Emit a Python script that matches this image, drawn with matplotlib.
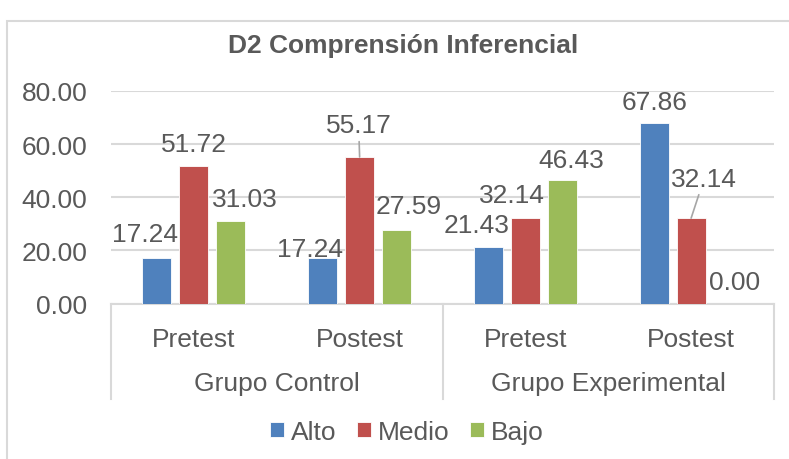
import numpy as np
import matplotlib
matplotlib.use('Agg')
import matplotlib.pyplot as plt
from matplotlib.patches import Rectangle, Patch
from matplotlib.lines import Line2D

## chart data
tests = ['Pretest', 'Postest', 'Pretest', 'Postest']
groups = ['Grupo Control', 'Grupo Experimental']
levels = ['Alto', 'Medio', 'Bajo']
alto = [17.24, 17.24, 21.43, 67.86]
medio = [51.72, 55.17, 32.14, 32.14]
bajo = [31.03, 27.59, 46.43, 0.00]
yticks = [0, 20, 40, 60, 80]

colors = ['#4f81bd', '#c0504d', '#9bbb59']
txt = '#595959'
grid_c = '#d9d9d9'
fs = 19

## label offsets in pixels (dx, dy to label centre) and leader-line flags, per series
label_off = [
    [(-12, 26), (-13, 11), (-12, 24.5), (0, 24)],
    [(0, 24.5), (-1, 34), (-13.5, 25.5), (13, 42)],
    [(14, 25), (12.5, 26.5), (9, 23), (6, 24.5)],
]
leader = [
    [False, False, False, False],
    [False, True, False, True],
    [False, False, False, False],
]

plt.rcParams['font.family'] = ['Liberation Sans', 'DejaVu Sans']

W, H = 789, 460
fig = plt.figure(figsize=(W / 100, H / 100), dpi=100)
fig.patch.set_facecolor('white')

# outer chart border
fig.patches.append(Rectangle((7 / W, -0.1), 1.2, 1 - 22 / H + 0.1, transform=fig.transFigure,
                             fill=False, edgecolor=grid_c, lw=1.5))

x0, x1 = 111, 774
y0, y1 = 304.5, 92
ax = fig.add_axes([x0 / W, 1 - y0 / H, (x1 - x0) / W, (y0 - y1) / H])

x = np.arange(len(tests))
bw = 0.175
step = 0.223
series = [alto, medio, bajo]
for i, (vals, c) in enumerate(zip(series, colors)):
    xs = x + (i - 1) * step
    ax.bar(xs, vals, width=bw, color=c, edgecolor='white', linewidth=0.6, zorder=3)
    for j, v in enumerate(vals):
        dx, dy = label_off[i][j]
        ap = None
        if leader[i][j]:
            ap = dict(arrowstyle='-', color='#a6a6a6', lw=1.2, shrinkA=1, shrinkB=0)
        ax.annotate('%.2f' % v, xy=(xs[j], v), xytext=(dx, dy - 9.5),
                    textcoords='offset pixels', ha='center', va='baseline',
                    fontsize=fs, color=txt, arrowprops=ap, zorder=5)

ax.set_xlim(-0.5, len(tests) - 0.5)
ax.set_ylim(0, 80)
ax.set_yticks(yticks)
ax.set_yticklabels(['%.2f' % t for t in yticks], fontsize=fs, color=txt)
ax.tick_params(axis='y', length=0, pad=17)
ax.set_xticks([])
ax.grid(axis='y', color=grid_c, lw=1.5, zorder=0)
for s in ['top', 'right', 'left']:
    ax.spines[s].set_visible(False)
ax.spines['bottom'].set_color(grid_c)
ax.spines['bottom'].set_linewidth(1.5)

# category axis labels
h_ax = y0 - y1
xt = ax.get_xaxis_transform()
for j, t in enumerate(tests):
    ax.text(x[j], (y0 - 347) / h_ax, t, transform=xt, ha='center', va='baseline',
            fontsize=fs, color=txt)
for g, name in enumerate(groups):
    ax.text(2 * g + 0.5, (y0 - 391) / h_ax, name, transform=xt, ha='center',
            va='baseline', fontsize=fs, color=txt)
for sx in [-0.5, 1.5, 3.5]:
    ax.add_line(Line2D([sx, sx], [0, (y0 - 400) / h_ax], transform=xt, color=grid_c,
                       lw=1.5, clip_on=False))

fig.text(403.5 / W, 1 - 53 / H, 'D2 Comprensión Inferencial', ha='center', va='baseline',
         fontsize=fs, fontweight='bold', color=txt)

handles = [Patch(facecolor=c, edgecolor='white', lw=0.6) for c in colors]
fig.legend(handles, levels, loc='center', bbox_to_anchor=(407 / W, 1 - 433 / H), ncol=3,
           frameon=False, fontsize=fs, labelcolor=txt, handlelength=0.5, handleheight=0.5,
           handletextpad=0.27, columnspacing=0.8, borderpad=0)

fig.savefig('out.png', dpi=100)
